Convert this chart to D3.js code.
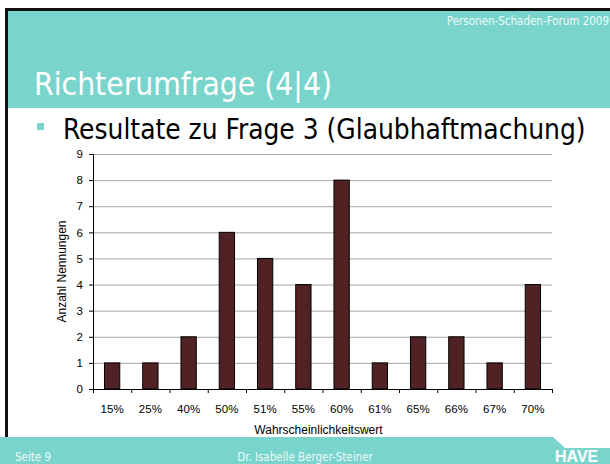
<!DOCTYPE html>
<html>
<head>
<meta charset="utf-8">
<script src="https://cdn.jsdelivr.net/npm/d3@7"></script>
<style>
  body { margin: 0; background: #fff; }
  svg { display: block; }
</style>
</head>
<body>
<svg id="slide" width="610" height="464"></svg>
<script>
const categories = ["15%", "25%", "40%", "50%", "51%", "55%", "60%", "61%", "65%", "66%", "67%", "70%"];
const counts = [1, 1, 2, 6, 5, 4, 8, 1, 2, 2, 1, 4];
const yTicks = [0, 1, 2, 3, 4, 5, 6, 7, 8, 9];

const teal = "#79d5cc";
const slideFont = "'DejaVu Sans Condensed', 'DejaVu Sans'";
const chartFont = "'Liberation Sans', Arial";
const svg = d3.select("#slide");

// slide frame
svg.append("rect").attr("x", 5).attr("y", 8).attr("width", 605).attr("height", 429).attr("fill", "#111");
svg.append("rect").attr("x", 8).attr("y", 11).attr("width", 602).attr("height", 97).attr("fill", teal);
svg.append("rect").attr("x", 8).attr("y", 108).attr("width", 602).attr("height", 329).attr("fill", "#fff");

// footer band with logo notch
svg.append("path")
  .attr("d", "M0,437 L553,437 L565,448 L610,448 L610,464 L0,464 Z")
  .attr("fill", teal);

svg.append("text").attr("x", 609).attr("y", 25).attr("text-anchor", "end")
  .attr("font-family", slideFont).attr("font-size", 11.5)
  .attr("fill", "#fff").attr("fill-opacity", 0.9).text("Personen-Schaden-Forum 2009");

svg.append("text").attr("x", 34).attr("y", 95)
  .attr("font-family", slideFont).attr("font-size", 31.5)
  .attr("fill", "#fff").text("Richterumfrage (4|4)");

svg.append("rect").attr("x", 37).attr("y", 123).attr("width", 7).attr("height", 7).attr("fill", teal);
svg.append("text").attr("x", 63).attr("y", 139)
  .attr("font-family", slideFont).attr("font-size", 27.8)
  .attr("fill", "#000").text("Resultate zu Frage 3 (Glaubhaftmachung)");

// footer texts
svg.append("text").attr("x", 15).attr("y", 461)
  .attr("font-family", slideFont).attr("font-size", 11.5)
  .attr("fill", "#fff").attr("fill-opacity", 0.9).text("Seite 9");
svg.append("text").attr("x", 305).attr("y", 461).attr("text-anchor", "middle")
  .attr("font-family", slideFont).attr("font-size", 11.5)
  .attr("fill", "#fff").attr("fill-opacity", 0.9).text("Dr. Isabelle Berger-Steiner");
svg.append("text").attr("x", 555).attr("y", 462)
  .attr("font-family", chartFont).attr("font-weight", "bold").attr("font-size", 16)
  .attr("fill", "#fff").text("HAVE");

// chart
const margin = {left: 93, top: 154, right: 610 - 552, bottom: 464 - 389};
const width = 552 - margin.left;
const height = 389 - margin.top;
const g = svg.append("g").attr("transform", "translate(" + margin.left + "," + margin.top + ")");

const x = d3.scaleBand().domain(categories).range([0, width]).paddingInner(0.6).paddingOuter(0.3);
const y = d3.scaleLinear().domain([0, 9]).range([height, 0]);

// gridlines
g.append("g").selectAll("line").data(yTicks.slice(1)).enter().append("line")
  .attr("x1", 0).attr("x2", width)
  .attr("y1", d => y(d) + 0.5).attr("y2", d => y(d) + 0.5)
  .attr("stroke", "#a6a6a6").attr("stroke-width", 1);

// bars
g.selectAll("rect.bar").data(counts).enter().append("rect")
  .attr("class", "bar")
  .attr("x", (d, i) => x(categories[i]))
  .attr("y", d => y(d))
  .attr("width", x.bandwidth())
  .attr("height", d => height - y(d))
  .attr("fill", "#512224").attr("stroke", "#000").attr("stroke-width", 1);

// y axis
const yAxis = g.append("g")
  .call(d3.axisLeft(y).tickValues(yTicks).tickSize(4).tickPadding(6).tickFormat(d3.format("d")));
yAxis.select(".domain").attr("stroke", "#000");
yAxis.selectAll("line").attr("stroke", "#000");
yAxis.selectAll("text").attr("font-family", chartFont).attr("font-size", 11.5).attr("fill", "#000");

// x axis: ticks at category boundaries
const step = width / categories.length;
const xAxis = g.append("g").attr("transform", "translate(0," + height + ")");
xAxis.append("line").attr("x1", 0).attr("x2", width).attr("y1", 0.5).attr("y2", 0.5).attr("stroke", "#000");
xAxis.selectAll("line.tick").data(d3.range(categories.length + 1)).enter().append("line")
  .attr("class", "tick")
  .attr("x1", i => i * step + 0.5).attr("x2", i => i * step + 0.5)
  .attr("y1", 0).attr("y2", 4).attr("stroke", "#000");
xAxis.selectAll("text").data(categories).enter().append("text")
  .attr("x", d => x(d) + x.bandwidth() / 2)
  .attr("y", 24)
  .attr("text-anchor", "middle")
  .attr("font-family", chartFont).attr("font-size", 11.5).attr("fill", "#000")
  .text(d => d);

g.append("text").attr("x", width / 2 - 4).attr("y", height + 45).attr("text-anchor", "middle")
  .attr("font-family", chartFont).attr("font-size", 12).attr("fill", "#000")
  .text("Wahrscheinlichkeitswert");

g.append("text").attr("transform", "rotate(-90)")
  .attr("x", -(height / 2)).attr("y", -27).attr("text-anchor", "middle")
  .attr("font-family", chartFont).attr("font-size", 12).attr("fill", "#000")
  .text("Anzahl Nennungen");
</script>
</body>
</html>
